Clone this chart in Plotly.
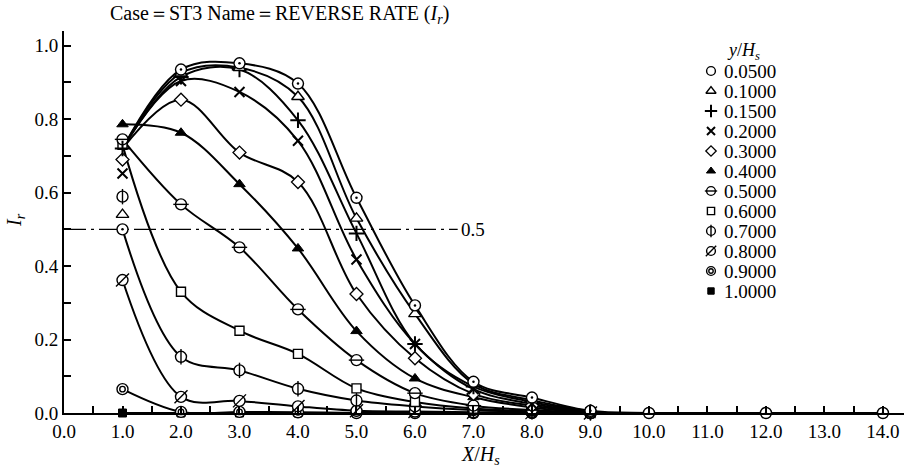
import plotly.graph_objects as go

# Stations X/H_s where I_r was sampled
X_NEAR = [1.0, 2.0, 3.0, 4.0, 5.0, 6.0, 7.0, 8.0, 9.0]
X_0050 = [1.0, 2.0, 3.0, 4.0, 5.0, 6.0, 7.0, 8.0, 9.0, 10.0, 12.0, 14.0]
X_1000 = [1.0, 2.0, 3.0, 4.0, 5.0, 6.0, 7.0, 8.0, 9.0, 12.0, 14.0]

# Depth levels y/H_s (legend entries)
LEVELS = ["0.0500", "0.1000", "0.1500", "0.2000", "0.3000", "0.4000",
          "0.5000", "0.6000", "0.7000", "0.8000", "0.9000", "1.0000"]

# Reverse rate I_r at each level
IR_0050 = [0.500, 0.935, 0.952, 0.897, 0.586, 0.293, 0.085, 0.042, 0.006, 0.000, 0.000, 0.000]
IR_0100 = [0.540, 0.925, 0.940, 0.861, 0.530, 0.270, 0.080, 0.035, 0.004]
IR_0150 = [0.720, 0.915, 0.935, 0.797, 0.489, 0.188, 0.072, 0.030, 0.003]
IR_0200 = [0.652, 0.904, 0.874, 0.741, 0.418, 0.188, 0.065, 0.025, 0.002]
IR_0300 = [0.690, 0.853, 0.709, 0.629, 0.324, 0.149, 0.052, 0.020, 0.002]
IR_0400 = [0.786, 0.763, 0.623, 0.448, 0.223, 0.094, 0.043, 0.015, 0.001]
IR_0500 = [0.745, 0.568, 0.451, 0.282, 0.144, 0.054, 0.020, 0.008, 0.000]
IR_0600 = [0.730, 0.330, 0.224, 0.161, 0.067, 0.030, 0.012, 0.005, 0.000]
IR_0700 = [0.589, 0.153, 0.116, 0.066, 0.034, 0.018, 0.008, 0.003, 0.000]
IR_0800 = [0.362, 0.044, 0.033, 0.018, 0.006, 0.004, 0.002, 0.001, 0.000]
IR_0900 = [0.065, 0.003, 0.003, 0.002, 0.000, 0.000, 0.000, 0.000, 0.000]
IR_1000 = [0.000, 0.000, 0.000, 0.000, 0.000, 0.000, 0.000, 0.000, 0.000, 0.000, 0.000]

# Value at X/H_s = 1.0 where the faired curve begins (None: starts at the first point)
CURVE_HEAD = [0.720, 0.720, None, 0.720, 0.720, None, None, None, 0.500, None, None, None]

# Reference level of the dash-dot line and where it stops
REF_LEVEL = 0.5
REF_END = 6.73

SERIES = [
    (X_0050, IR_0050), (X_NEAR, IR_0100), (X_NEAR, IR_0150), (X_NEAR, IR_0200),
    (X_NEAR, IR_0300), (X_NEAR, IR_0400), (X_NEAR, IR_0500), (X_NEAR, IR_0600),
    (X_NEAR, IR_0700), (X_NEAR, IR_0800), (X_NEAR, IR_0900), (X_1000, IR_1000),
]

INK = "black"
PAPER = "white"
SERIF = "Liberation Serif"

# Marker glyphs as stacked layers: (symbol, size, fill/stroke colour, outline width, plot-only)
GLYPHS = [
    [("circle", 11, PAPER, 1.4, False), ("circle", 2.5, INK, 0, True)],
    [("triangle-up", 11, PAPER, 1.4, False)],
    [("cross-thin-open", 11, INK, 2.0, False)],
    [("x-thin-open", 10, INK, 2.0, False)],
    [("diamond", 10, PAPER, 1.3, False)],
    [("triangle-up", 10, INK, 1.0, False)],
    [("circle", 11, PAPER, 1.4, False), ("line-ew-open", 11, INK, 1.4, False)],
    [("square", 9, PAPER, 1.4, False)],
    [("circle", 11, PAPER, 1.4, False), ("line-ns-open", 11, INK, 1.4, False)],
    [("circle", 11, PAPER, 1.4, False), ("line-ne-open", 13, INK, 1.4, False)],
    [("circle", 11, PAPER, 1.4, False), ("circle-open", 5.5, INK, 1.4, False)],
    [("square", 8, INK, 1.0, False)],
]

# plot-area geometry in page pixels (left, right, top, bottom)
PX_L, PX_R, PX_T, PX_B = 64, 904, 31, 413


def paper_x(px):
    return (px - PX_L) / (PX_R - PX_L)


def paper_y(py):
    return (PX_B - py) / (PX_B - PX_T)


def marker_style(symbol, size, colour, width):
    return dict(symbol=symbol, size=size, color=colour,
                line=dict(color=INK, width=width))


fig = go.Figure()

# dash-dot reference level
fig.add_trace(go.Scatter(
    x=[0.0, REF_END], y=[REF_LEVEL, REF_LEVEL], mode="lines",
    line=dict(color=INK, width=1.4, dash="22px,5px,3px,5px"),
    showlegend=False, hoverinfo="skip"))

# faired curves first so every marker sits on top of them
for (xs, values), head in zip(SERIES, CURVE_HEAD):
    ys = list(values)
    if head is not None:
        ys[0] = head
    fig.add_trace(go.Scatter(
        x=xs, y=ys, mode="lines",
        line=dict(color=INK, width=2.0, shape="spline", smoothing=1.0),
        cliponaxis=False, showlegend=False, hoverinfo="skip"))

# markers: deepest level first so the near-surface symbols stay on top
for (xs, values), glyph in reversed(list(zip(SERIES, GLYPHS))):
    for symbol, size, colour, width, _ in glyph:
        fig.add_trace(go.Scatter(
            x=xs, y=values, mode="markers",
            marker=marker_style(symbol, size, colour, width),
            cliponaxis=False, showlegend=False))

# key drawn on a pixel-scaled overlay
LEG_X_SYM, LEG_X_TEXT = 711, 722
LEG_Y0, LEG_DY, LEG_TITLE_Y = 71, 20, 51
for i, (label, glyph) in enumerate(zip(LEVELS, GLYPHS)):
    row_y = LEG_Y0 + LEG_DY * i
    for symbol, size, colour, width, plot_only in glyph:
        if plot_only:
            continue
        fig.add_trace(go.Scatter(
            x=[LEG_X_SYM], y=[row_y], mode="markers", xaxis="x2", yaxis="y2",
            marker=marker_style(symbol, size * 0.8, colour, width),
            cliponaxis=False, showlegend=False, hoverinfo="skip"))
    fig.add_annotation(x=LEG_X_TEXT, y=row_y, xref="x2", yref="y2", text=label,
                       showarrow=False, xanchor="left", yanchor="middle",
                       font=dict(family=SERIF, size=19, color=INK))
fig.add_annotation(x=743, y=LEG_TITLE_Y, xref="x2", yref="y2",
                   text="<i>y</i>/<i>H<sub>s</sub></i>", showarrow=False,
                   xanchor="center", yanchor="middle",
                   font=dict(family=SERIF, size=18, color=INK))

# level label at the end of the dash-dot line
fig.add_annotation(x=REF_END, y=REF_LEVEL, text="0.5", showarrow=False,
                   xanchor="left", yanchor="middle", xshift=1,
                   font=dict(family=SERIF, size=19, color=INK))

# heading and axis titles
fig.add_annotation(x=paper_x(108), y=paper_y(15), xref="paper", yref="paper",
                   text="Case＝ST3 Name＝REVERSE RATE (<i>I<sub>r</sub></i>)",
                   showarrow=False, xanchor="left", yanchor="middle",
                   font=dict(family=SERIF, size=20, color=INK))
fig.add_annotation(x=paper_x(15), y=paper_y(220), xref="paper", yref="paper",
                   text="<i>I<sub>r</sub></i>", textangle=-90, showarrow=False,
                   xanchor="center", yanchor="middle",
                   font=dict(family=SERIF, size=20, color=INK))
fig.add_annotation(x=paper_x(480), y=paper_y(456), xref="paper", yref="paper",
                   text="<i>X</i>/<i>H<sub>s</sub></i>", showarrow=False,
                   xanchor="center", yanchor="middle",
                   font=dict(family=SERIF, size=20, color=INK))

axis_common = dict(
    showline=True, linecolor=INK, linewidth=2, showgrid=False, zeroline=False,
    ticks="inside", ticklen=7, tickwidth=1.5, tickcolor=INK,
    tickformat=".1f", tickfont=dict(family=SERIF, size=19, color=INK),
    fixedrange=True,
)

fig.update_layout(
    width=906, height=470,
    margin=dict(l=PX_L, r=906 - PX_R, t=PX_T, b=470 - PX_B),
    paper_bgcolor=PAPER, plot_bgcolor=PAPER,
    showlegend=False,
    xaxis=dict(range=[0, 14.36], tick0=0, dtick=1,
               minor=dict(dtick=0.5, ticks="inside", ticklen=7, tickcolor=INK, tickwidth=1.5),
               **axis_common),
    yaxis=dict(range=[0, 1.04], tick0=0, dtick=0.2,
               minor=dict(dtick=0.1, ticks="inside", ticklen=7, tickcolor=INK, tickwidth=1.5),
               **axis_common),
    xaxis2=dict(overlaying="x", anchor="y2", range=[PX_L, PX_R], visible=False, fixedrange=True),
    yaxis2=dict(overlaying="y", anchor="x2", range=[PX_B, PX_T], visible=False, fixedrange=True),
)

fig.write_html("out.html")
